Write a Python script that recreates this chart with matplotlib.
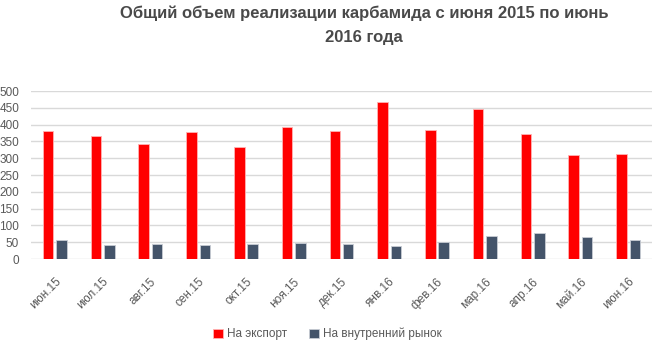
import numpy as np
import matplotlib
matplotlib.use('Agg')
import matplotlib.pyplot as plt

months = ['июн.15', 'июл.15', 'авг.15', 'сен.15', 'окт.15', 'ноя.15', 'дек.15',
          'янв.16', 'фев.16', 'мар.16', 'апр.16', 'май.16', 'июн.16']
export = [382, 367, 341, 377, 334, 394, 382, 468, 385, 447, 373, 310, 313]
domestic = [57, 42, 45, 42, 45, 48, 45, 40, 50, 68, 77, 65, 57]
y_ticks = [0, 50, 100, 150, 200, 250, 300, 350, 400, 450, 500]

plt.rcParams['font.family'] = ['Liberation Sans', 'DejaVu Sans']
grey = '#595959'

fig = plt.figure(figsize=(6.63, 3.49), dpi=100)
ax = fig.add_axes([31 / 663, 1 - 259 / 349, 621 / 663, 168 / 349])

x = np.arange(len(months))
w = 0.22
ax.bar(x - 0.14, export, w, color='#ff0000', edgecolor='#ffb3b3', linewidth=0.6,
       label='На экспорт', zorder=3)
ax.bar(x + 0.14, domestic, w, color='#44546a', edgecolor='#c8ccd4', linewidth=0.6,
       label='На внутренний рынок', zorder=3)

ax.set_xlim(-0.5, len(months) - 0.5)
ax.set_ylim(0, 500)
ax.set_yticks(y_ticks)
ax.tick_params(axis='y', length=0, labelsize=8.5, labelcolor=grey, pad=8.5)
ax.set_xticks(x)
ax.set_xticklabels(months, rotation=45, ha='right', rotation_mode='anchor')
ax.tick_params(axis='x', length=0, labelsize=8.5, labelcolor=grey, pad=12)
ax.grid(axis='y', color='#d9d9d9', linewidth=1, zorder=0)
for s in ax.spines.values():
    s.set_visible(False)

fig.text(0.549, 0.985, 'Общий объем реализации карбамида с июня 2015 по июнь\n2016 года',
         ha='center', va='top', fontsize=12, fontweight='bold', color='#494949',
         linespacing=1.75)

fig.legend(loc='lower center', bbox_to_anchor=(0.494, -0.005), ncol=2, frameon=False,
           fontsize=8.5, labelcolor=grey, handlelength=0.8, handleheight=0.8,
           handletextpad=0.35, columnspacing=1.9)

fig.savefig('out.png', dpi=100)
